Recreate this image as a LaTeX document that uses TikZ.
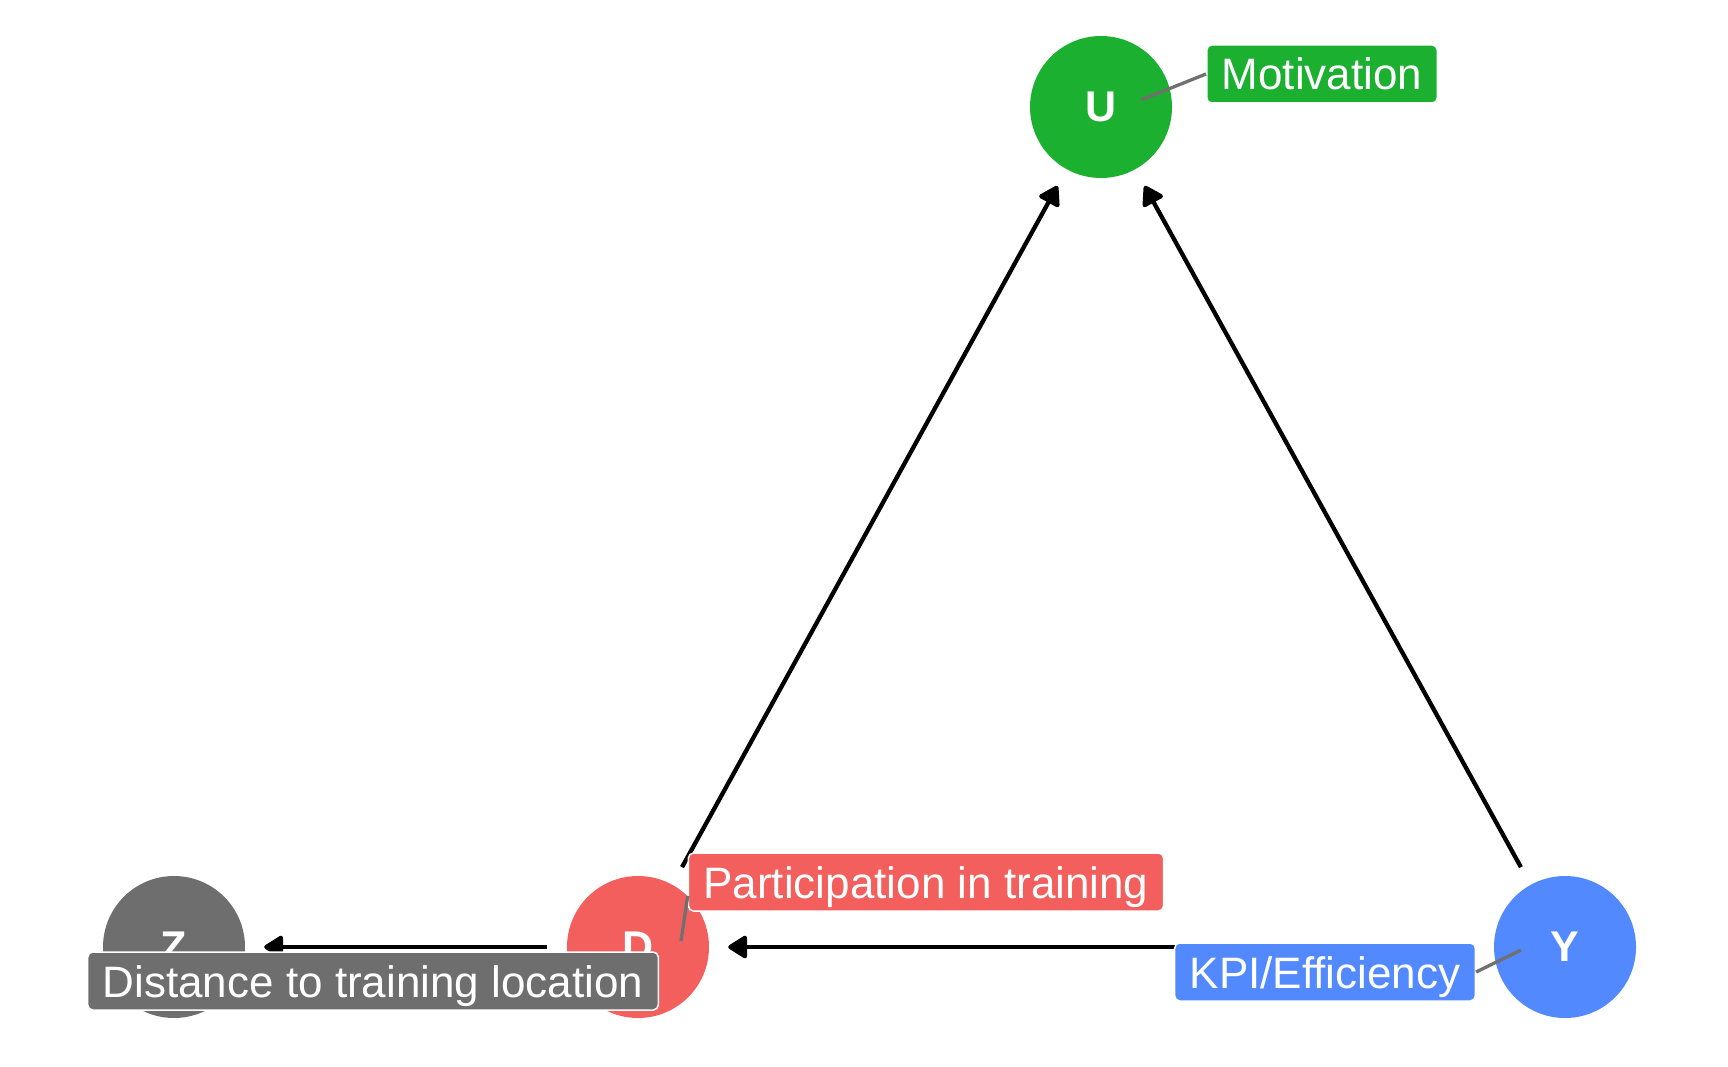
\documentclass[tikz,border=0pt]{standalone}
\usepackage{fontspec}
\setmainfont{Liberation Sans}
\usetikzlibrary{arrows.meta,calc}

\definecolor{ugreen}{HTML}{1BB030}
\definecolor{dred}{HTML}{F35F5D}
\definecolor{yblue}{HTML}{5289FF}
\definecolor{zgray}{HTML}{6E6E6E}
\definecolor{leadgray}{HTML}{707070}

\begin{document}
\begin{tikzpicture}[x=1pt,y=-1pt,
  var/.style={circle,minimum size=142pt,inner sep=0pt,text=white,font=\fontsize{43}{43}\selectfont\bfseries},
  tag/.style={rounded corners=5pt,draw=white,line width=1.5pt,text=white,inner xsep=15pt,
    minimum height=58pt,text height=32pt,text depth=0pt,font=\fontsize{44}{44}\selectfont},
  edge/.style={-{Triangle[length=21pt,width=25pt,round]},line width=4.3pt,shorten <=20pt,shorten >=19pt},
  leader/.style={leadgray,line width=3.3pt}]
\useasboundingbox (0,0) rectangle (1728,1067);
% variables
\node [var,fill=ugreen] (U) at (1101,107) {U};
\node [var,fill=dred] (D) at (638,947) {D};
\node [var,fill=zgray] (Z) at (174,947) {Z};
\node [var,fill=yblue] (Y) at (1565,947) {Y};
% arrows
\draw [edge] (D) -- (Z);
\draw [edge] (Y) -- (D);
\draw [edge] (D) -- (U);
\draw [edge] (Y) -- (U);
% labels
\node [tag,fill=ugreen] (mot) at (1322,74) {Motivation};
\node [tag,fill=dred] (part) at (926,882) {Participation in training};
\node [tag,fill=zgray] (dist) at (373,981) {Distance to training location};
\node [tag,fill=yblue] (kpi) at (1325,972) {KPI/Efficiency};
\draw [leader] (U) ++(40,-7) -- (mot.west);
\draw [leader] (D) ++(43,-6) -- ($(part.west)+(0,14)$);
\draw [leader] (Y) ++(-44,3) -- (kpi.east);
\end{tikzpicture}
\end{document}
